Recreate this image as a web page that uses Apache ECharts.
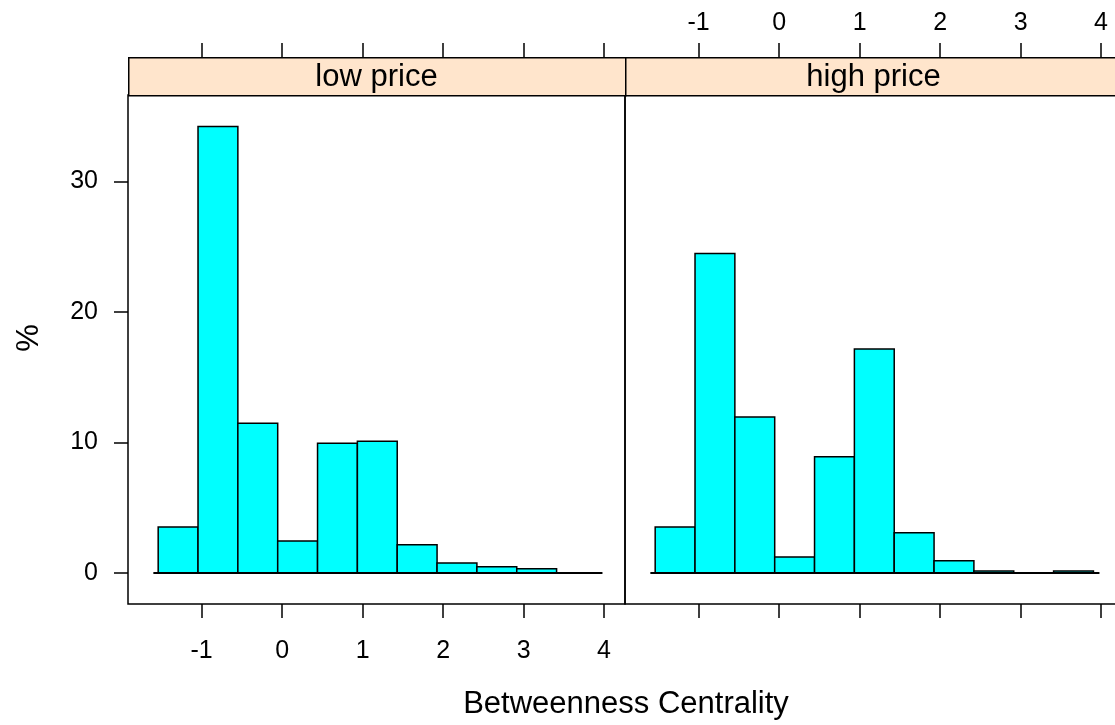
<!DOCTYPE html>
<html>
<head>
<meta charset="utf-8">
<script src="https://cdn.jsdelivr.net/npm/echarts@6/dist/echarts.min.js"></script>
<style>
  html, body { margin: 0; padding: 0; background: #fff; }
  #chart { width: 1115px; height: 725px; }
</style>
</head>
<body>
<div id="chart"></div>
<script>
// ---- data ----
const panelNames = ['low price', 'high price'];
const binEdges = [-1.54, -1.045, -0.55, -0.055, 0.44, 0.935, 1.43, 1.925, 2.42, 2.915, 3.41, 3.905];
const lowPricePct = [3.52, 34.2, 11.48, 2.45, 9.95, 10.1, 2.17, 0.77, 0.48, 0.33, 0];
const highPricePct = [3.52, 24.48, 11.96, 1.22, 8.90, 17.16, 3.08, 0.94, 0.15, 0, 0.15];
const xTicks = [-1, 0, 1, 2, 3, 4];
const yTicks = [0, 10, 20, 30];
const baselineRange = [-1.6, 3.98];
const xTitle = 'Betweenness Centrality';
const yTitle = '%';

// ---- layout / style ----
const FONT = '"Liberation Sans", Arial, Helvetica, sans-serif';
const xMin = -1.915, xMax = 4.26;
const yMin = -2.37, yMax = 36.61;
const panelTop = 95, panelH = 509, panelW = 497;
const panelLefts = [128, 625];
const stripH = 38;

function binData(vals) {
  return vals.map((v, i) => [binEdges[i], binEdges[i + 1], v]);
}

const chart = echarts.init(document.getElementById('chart'), null, { renderer: 'canvas' });

const grids = panelLefts.map(l => ({
  left: l, top: panelTop, width: panelW, height: panelH,
  show: true, borderColor: '#000', borderWidth: 1.5, backgroundColor: 'transparent',
  containLabel: false, outerBoundsMode: 'none'
}));

function xAxisDef(gi, pos, showLabel) {
  return {
    type: 'value', gridIndex: gi, position: pos, min: xMin, max: xMax,
    offset: pos === 'top' ? stripH : 0,
    axisLine: { show: false, onZero: false },
    splitLine: { show: false },
    axisTick: { show: true, inside: false, length: 14, customValues: xTicks,
      lineStyle: { color: '#000', width: 1.5 } },
    axisLabel: { show: showLabel, customValues: xTicks, color: '#000',
      fontFamily: FONT, fontSize: 25, margin: pos === 'top' ? 21 : 35 }
  };
}

const xAxes = [
  xAxisDef(0, 'bottom', true),
  xAxisDef(0, 'top', false),
  xAxisDef(1, 'bottom', false),
  xAxisDef(1, 'top', true)
];

const yAxes = [0, 1].map(gi => ({
  type: 'value', gridIndex: gi, position: 'left', min: yMin, max: yMax,
  axisLine: { show: false, onZero: false },
  splitLine: { show: false },
  axisTick: { show: gi === 0, inside: false, length: 14, customValues: yTicks,
    lineStyle: { color: '#000', width: 1.5 } },
  axisLabel: { show: gi === 0, customValues: yTicks, color: '#000',
    fontFamily: FONT, fontSize: 25, margin: 30 }
}));

function histSeries(gi, vals, name) {
  return {
    type: 'custom', name: name,
    xAxisIndex: gi * 2, yAxisIndex: gi,
    data: binData(vals),
    encode: { x: [0, 1], y: 2 },
    renderItem: function (params, api) {
      const p0 = api.coord([api.value(0), api.value(2)]);
      const p1 = api.coord([api.value(1), 0]);
      return {
        type: 'rect',
        shape: { x: p0[0], y: p0[1], width: p1[0] - p0[0], height: p1[1] - p0[1] },
        style: { fill: '#00ffff', stroke: '#000', lineWidth: 1.5 }
      };
    },
    z: 2
  };
}

function baseSeries(gi) {
  return {
    type: 'line', xAxisIndex: gi * 2, yAxisIndex: gi,
    data: [[baselineRange[0], 0], [baselineRange[1], 0]],
    symbol: 'none', silent: true,
    lineStyle: { color: '#000', width: 2 }, z: 3
  };
}

const graphics = [];
panelLefts.forEach((l, i) => {
  graphics.push({
    type: 'rect', left: l, top: panelTop - stripH, z: 10,
    shape: { width: panelW, height: stripH },
    style: { fill: '#ffe5cc', stroke: '#000', lineWidth: 1.5 }
  });
  graphics.push({
    type: 'text', x: l + panelW / 2, y: panelTop - stripH / 2 + 1, z: 11,
    style: { text: panelNames[i], font: '31px ' + FONT, fill: '#000',
      textAlign: 'center', textVerticalAlign: 'middle' }
  });
});
graphics.push({
  type: 'text', x: 626, y: 704, z: 11,
  style: { text: xTitle, font: '31px ' + FONT, fill: '#000',
    textAlign: 'center', textVerticalAlign: 'middle' }
});
graphics.push({
  type: 'text', x: 29, y: 338, rotation: Math.PI / 2, z: 11,
  style: { text: yTitle, font: '31px ' + FONT, fill: '#000',
    textAlign: 'center', textVerticalAlign: 'middle' }
});

chart.setOption({
  animation: false,
  backgroundColor: '#fff',
  grid: grids,
  xAxis: xAxes,
  yAxis: yAxes,
  series: [
    histSeries(0, lowPricePct, panelNames[0]),
    histSeries(1, highPricePct, panelNames[1]),
    baseSeries(0),
    baseSeries(1)
  ],
  graphic: graphics
});
</script>
</body>
</html>
